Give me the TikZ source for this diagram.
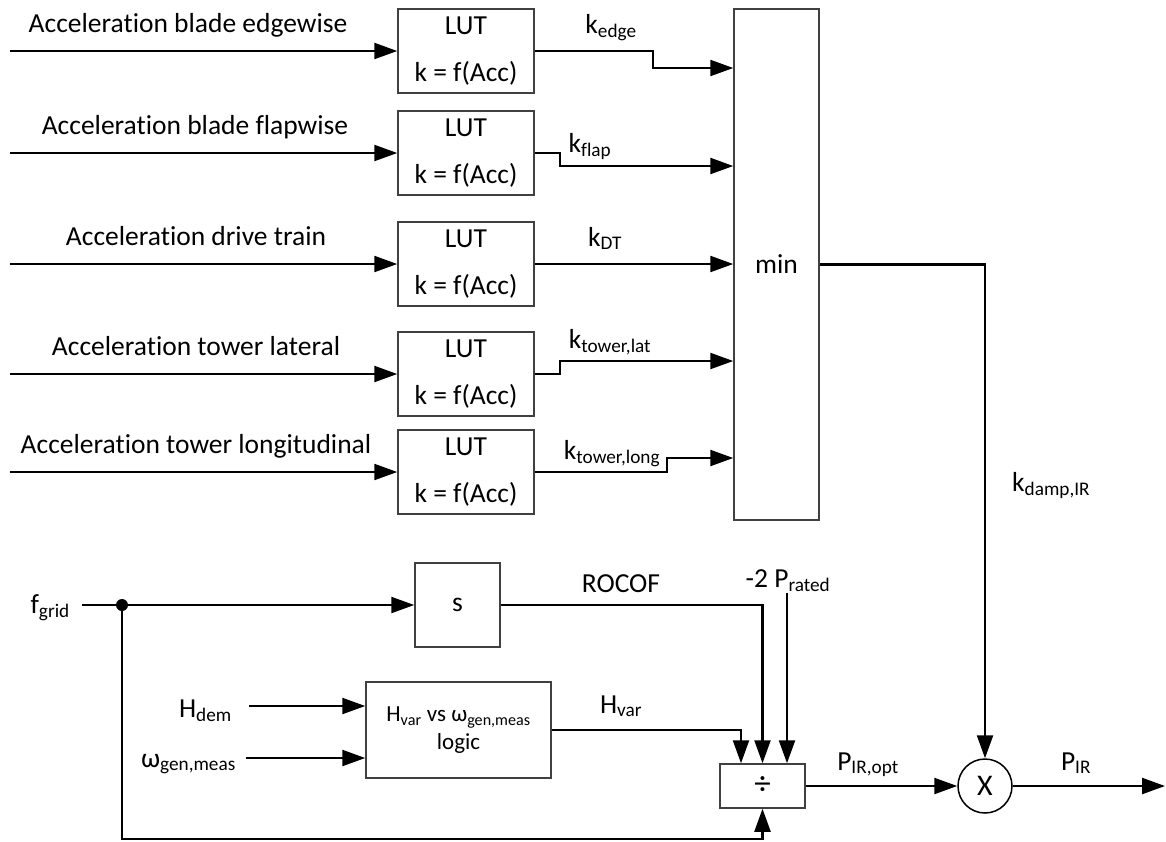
\documentclass[tikz,border=0pt]{standalone}
\usepackage{fontspec}
\setmainfont{Carlito}[Ligatures={NoCommon,NoContextual,NoRare}]
\usepackage{tikz}
\usetikzlibrary{arrows.meta}

\begin{document}
\begin{tikzpicture}[x=1pt,y=-1pt]
	\tikzstyle{every node}+=[inner sep=0pt,font=\fontsize{27.5}{33}\selectfont]
	\tikzstyle{blk}=[draw=black!75,line width=1.5pt,align=center]
	\tikzstyle{lutblk}=[blk,minimum width=136,minimum height=84]
	\tikzstyle{sig}=[line width=2.3pt,-{Triangle[length=23pt,width=16pt]}]
	\useasboundingbox (0,0) rectangle (1166,841);
	% acceleration inputs and look-up tables
	\node [lutblk] (lut1) at (466,51) {LUT\\[14pt]k = f(Acc)};
	\node [lutblk] (lut2) at (466,153) {LUT\\[14pt]k = f(Acc)};
	\node [lutblk] (lut3) at (466,264) {LUT\\[14pt]k = f(Acc)};
	\node [lutblk] (lut4) at (466,374) {LUT\\[14pt]k = f(Acc)};
	\node [lutblk] (lut5) at (466,472) {LUT\\[14pt]k = f(Acc)};
	\node [anchor=base] (acc1) at (188,32) {Acceleration blade edgewise};
	\node [anchor=base] (acc2) at (195,134) {Acceleration blade flapwise};
	\node [anchor=base] (acc3) at (196,245) {Acceleration drive train};
	\node [anchor=base] (acc4) at (196,355) {Acceleration tower lateral};
	\node [anchor=base] (acc5) at (196,453) {Acceleration tower longitudinal};
	\coordinate (in1) at (10,51);
	\coordinate (in2) at (10,153);
	\coordinate (in3) at (10,264);
	\coordinate (in4) at (10,374);
	\coordinate (in5) at (10,472);
	\draw [sig] (in1) -- (lut1);
	\draw [sig] (in2) -- (lut2);
	\draw [sig] (in3) -- (lut3);
	\draw [sig] (in4) -- (lut4);
	\draw [sig] (in5) -- (lut5);
	% minimum selection
	\node [blk,minimum width=85,minimum height=511] (min) at (776.5,264.5) {min};
	\coordinate (st1) at (653,68);
	\coordinate (st2) at (560,166);
	\coordinate (st4) at (560,361);
	\coordinate (st5) at (667,458);
	\draw [sig] (lut1.east) -| (st1) -- (st1 -| min.west);
	\draw [sig] (lut2.east) -| (st2) -- (st2 -| min.west);
	\draw [sig] (lut3.east) -- (lut3 -| min.west);
	\draw [sig] (lut4.east) -| (st4) -- (st4 -| min.west);
	\draw [sig] (lut5.east) -| (st5) -- (st5 -| min.west);
	\node [anchor=base] (kedge) at (611,33) {k\textsubscript{edge}};
	\node [anchor=base] (kflap) at (590,152) {k\textsubscript{flap}};
	\node [anchor=base] (kdt) at (605,246) {k\textsubscript{DT}};
	\node [anchor=base] (klat) at (610,348) {k\textsubscript{tower,lat}};
	\node [anchor=base] (klong) at (612,459) {k\textsubscript{tower,long}};
	% inertial response path
	\node [anchor=base east] (fgrid) at (70,613) {f\textsubscript{grid}};
	\coordinate (fin) at (82,605);
	\coordinate (split) at (122,605);
	\coordinate (fback) at (122,839);
	\node [blk,minimum width=85,minimum height=84] (sblk) at (457.5,605) {s};
	\node [blk,minimum width=185,minimum height=96,font=\fontsize{23}{28}\selectfont] (logic) at (458.5,730) {H\textsubscript{var} vs ω\textsubscript{gen,meas}\\logic};
	\node [blk,minimum width=85,minimum height=44,font=\fontsize{33}{33}\selectfont] (div) at (762.5,786) {÷};
	\node [draw,circle,line width=1.5pt,minimum size=54,font=\fontsize{30}{33}\selectfont] (mult) at (985,786) {X};
	\draw [sig] (fin) -- (sblk);
	\fill (split) circle (6pt);
	\draw [sig] (split) -- (fback) -| (div.south);
	\draw [sig] (sblk.east) -| (div.north);
	\draw [sig] (logic.east) -| ([xshift=-21.5pt]div.north);
	\coordinate (prtop) at (787,593);
	\draw [sig] (prtop) -- (prtop |- div.north);
	\coordinate (hdin) at (249,706);
	\coordinate (win) at (246,758);
	\draw [sig] (hdin) -- (hdin -| logic.west);
	\draw [sig] (win) -- (win -| logic.west);
	\node [anchor=base east] (hdem) at (232,717) {H\textsubscript{dem}};
	\node [anchor=base east] (wgen) at (236,767) {ω\textsubscript{gen,meas}};
	\node [anchor=base] (rocof) at (621,592) {ROCOF};
	\node [anchor=base] (prated) at (788,587) {-2 P\textsubscript{rated}};
	\node [anchor=base] (hvar) at (621,713) {H\textsubscript{var}};
	\draw [sig] (div) -- (mult);
	\draw [sig] (min.east) -| (mult.north);
	\coordinate (pout) at (1165,786);
	\draw [sig] (mult) -- (pout);
	\node [anchor=base] (piropt) at (868,770) {P\textsubscript{IR,opt}};
	\node [anchor=base] (pir) at (1076,770) {P\textsubscript{IR}};
	\node [anchor=base west] (kdamp) at (1012,491) {k\textsubscript{damp,IR}};
\end{tikzpicture}
\end{document}
